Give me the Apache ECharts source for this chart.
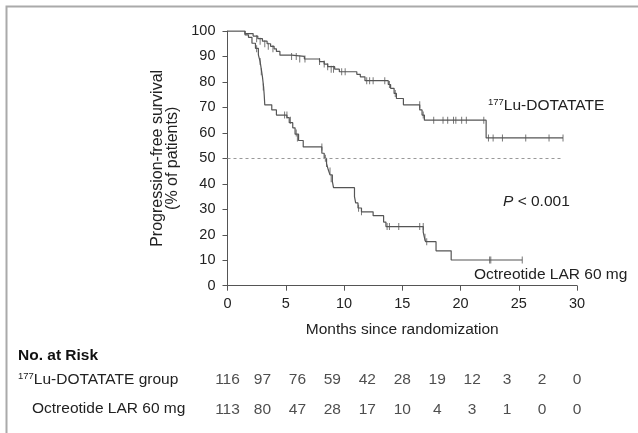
<!DOCTYPE html>
<html>
<head>
<meta charset="utf-8">
<script src="https://cdn.jsdelivr.net/npm/echarts@6/dist/echarts.min.js"></script>
<style>
html,body{margin:0;padding:0;background:#fff;}
#c{width:638px;height:433px;}
</style>
</head>
<body>
<div id="c"></div>
<script>
// Kaplan-Meier step points (months, % progression-free)
var luTimes  = [0, 1.5, 2.2, 2.6, 3.0, 3.4, 3.7, 4.0, 4.2, 4.5, 5.5, 6.6, 7.9, 8.3, 8.6, 9.2, 9.6, 11.1, 11.4, 11.8, 13.8, 14.0, 14.3, 14.5, 15.1, 16.5, 16.7, 16.9, 22.2, 28.8];
var luValues = [100, 99, 98, 97, 96, 95, 94, 93, 92, 90.5, 90, 89, 88, 87, 86, 85, 84, 83, 82, 80.5, 79, 77.5, 75.5, 73.5, 71, 69, 67, 65, 58, 58];

var octTimes  = [0, 1.5, 1.8, 2.1, 2.4, 2.65, 2.8, 2.9, 3.0, 3.1, 3.15, 3.2, 3.8, 4.2, 5.1, 5.3, 5.6, 5.8, 6.1, 6.5, 8.1, 8.3, 8.5, 8.65, 8.8, 9.0, 9.1, 10.9, 11.0, 11.2, 11.5, 12.5, 13.4, 13.6, 16.8, 16.9, 17.0, 17.9, 19.2, 25.3];
var octValues = [100, 98.5, 97.5, 95.2, 93.2, 90.6, 88, 85, 82, 78, 75, 71, 69, 67, 66, 64, 62, 59.5, 57, 54.5, 52, 50, 48, 45.5, 43.5, 41, 38.5, 35, 32.5, 30.5, 29, 27.5, 25, 23.2, 21, 19, 17.3, 13.7, 10.1, 10.1];

// censoring marks
var luCensorTimes  = [2.5, 2.8, 3.2, 3.5, 3.9, 5.5, 5.9, 6.2, 6.65, 7.9, 8.3, 8.6, 8.9, 9.1, 9.8, 10.1, 11.95, 12.2, 12.5, 13.5, 13.9, 14.4, 16.5, 16.8, 17.7, 18.5, 18.9, 19.4, 19.6, 20.1, 20.5, 22.0, 22.4, 22.8, 23.6, 25.6, 27.6, 28.8];
var luCensorValues = [97, 96, 95, 94, 93, 90, 90, 89, 89, 88, 87, 86, 85, 85, 84, 84, 80.5, 80.5, 80.5, 80.5, 79, 75.5, 71, 67, 65, 65, 65, 65, 65, 65, 65, 65, 58, 58, 58, 58, 58, 58];

var octCensorTimes  = [2.5, 2.8, 2.9, 3.07, 4.9, 5.1, 5.4, 5.9, 6.0, 8.1, 8.4, 8.5, 8.8, 8.9, 11.25, 11.5, 13.7, 13.9, 14.7, 16.5, 16.8, 16.95, 17.1, 22.5, 22.6, 25.3];
var octCensorValues = [93, 88, 84, 78, 67, 67, 65, 60, 58, 54.5, 50, 48, 45, 42, 30.4, 29, 23.2, 23.2, 23.2, 23.2, 23.2, 19, 17.3, 10.1, 10.1, 10.1];

// number at risk table
var riskMonths = [0, 3, 6, 9, 12, 15, 18, 21, 24, 27, 30];
var luRisk  = [116, 97, 76, 59, 42, 28, 19, 12, 3, 2, 0];
var octRisk = [113, 80, 47, 28, 17, 10, 4, 3, 1, 0, 0];

var xTicks = [0, 5, 10, 15, 20, 25, 30];
var yTicks = [0, 10, 20, 30, 40, 50, 60, 70, 80, 90, 100];

function zip(a, b) { return a.map(function (v, i) { return [v, b[i]]; }); }

var FONT = '"Liberation Sans", Arial, sans-serif';
var TXT = '#222';
var LINE = '#555';

var chart = echarts.init(document.getElementById('c'), null, {renderer: 'canvas'});

var riskData = [];
riskMonths.forEach(function (m, i) {
  riskData.push([m, 0, luRisk[i]]);
  riskData.push([m, 1, octRisk[i]]);
});

var option = {
  animation: false,
  backgroundColor: '#fff',
  textStyle: {fontFamily: FONT},
  grid: [
    {left: 227.5, right: 61, top: 31, bottom: 147.3, containLabel: false},
    {left: 227.5, right: 61, top: 365, height: 59}
  ],
  xAxis: [
    {
      type: 'value', gridIndex: 0, min: 0, max: 30, interval: 5,
      name: 'Months since randomization', nameLocation: 'middle', nameGap: 36,
      nameTextStyle: {fontSize: 15.5, color: TXT, fontFamily: FONT},
      axisLine: {lineStyle: {color: LINE, width: 1}},
      axisTick: {show: true, length: 5, lineStyle: {color: LINE}},
      axisLabel: {fontSize: 14.5, color: TXT, fontFamily: FONT, margin: 11},
      splitLine: {show: false}
    },
    {type: 'value', gridIndex: 1, min: 0, max: 30, show: false}
  ],
  yAxis: [
    {
      type: 'value', gridIndex: 0, min: 0, max: 100, interval: 10,
      name: 'Progression-free survival\n(% of patients)', nameLocation: 'middle', nameGap: 45,
      nameRotate: 90,
      nameTextStyle: {fontSize: 16, color: TXT, fontFamily: FONT, lineHeight: 14.5},
      axisLine: {show: true, lineStyle: {color: LINE, width: 1}},
      axisTick: {show: true, length: 5, lineStyle: {color: LINE}},
      axisLabel: {fontSize: 14.5, color: TXT, fontFamily: FONT, margin: 12},
      splitLine: {show: false}
    },
    {type: 'category', gridIndex: 1, data: ['lu', 'oct'], inverse: true, show: false}
  ],
  series: [
    {
      type: 'line', xAxisIndex: 0, yAxisIndex: 0, step: 'end', showSymbol: false,
      data: zip(luTimes, luValues),
      lineStyle: {color: LINE, width: 1.2},
      markLine: {
        silent: true, symbol: 'none', label: {show: false},
        lineStyle: {color: '#999', type: [3, 3], width: 1},
        data: [[{coord: [0, 50]}, {coord: [28.8, 50]}]]
      }
    },
    {
      type: 'line', xAxisIndex: 0, yAxisIndex: 0, step: 'end', showSymbol: false,
      data: zip(octTimes, octValues),
      lineStyle: {color: LINE, width: 1.2}
    },
    {
      type: 'scatter', xAxisIndex: 0, yAxisIndex: 0,
      data: zip(luCensorTimes, luCensorValues),
      symbol: 'rect', symbolSize: [1, 7], itemStyle: {color: LINE}
    },
    {
      type: 'scatter', xAxisIndex: 0, yAxisIndex: 0,
      data: zip(octCensorTimes, octCensorValues),
      symbol: 'rect', symbolSize: [1, 7], itemStyle: {color: LINE}
    },
    {
      type: 'scatter', xAxisIndex: 1, yAxisIndex: 1,
      data: riskData, symbolSize: 2, itemStyle: {color: 'rgba(0,0,0,0)'},
      label: {
        show: true, position: 'inside', color: TXT, fontSize: 15.5, fontFamily: FONT,
        formatter: function (p) { return String(p.value[2]); }
      },
      labelLayout: {hideOverlap: false}
    }
  ],
  graphic: [
    {type: 'polyline', shape: {points: [[6.5, 433], [6.5, 6.5], [638, 6.5]]},
     style: {stroke: '#aaa', lineWidth: 2, fill: null}, silent: true},
    {type: 'text', left: 488, top: 97, style: {
      text: '{s|177}{n|Lu-DOTATATE}', fill: TXT, fontFamily: FONT,
      rich: {s: {fontSize: 9.5, verticalAlign: 'top', fill: TXT, fontFamily: FONT, padding: [0, 0, 7, 0]},
             n: {fontSize: 15.5, fill: TXT, fontFamily: FONT}}
    }},
    {type: 'text', left: 503, top: 194, style: {
      text: '{i|P} < 0.001', fill: TXT, fontFamily: FONT, fontSize: 15.5,
      rich: {i: {fontStyle: 'italic', fontSize: 15.5, fill: TXT, fontFamily: FONT}}
    }},
    {type: 'text', left: 474, top: 267, style: {text: 'Octreotide LAR 60 mg', fill: TXT, fontFamily: FONT, fontSize: 15.5}},
    {type: 'text', left: 18, top: 348, style: {text: 'No. at Risk', fill: '#111', fontFamily: FONT, fontSize: 15.5, fontWeight: 'bold'}},
    {type: 'text', left: 18, top: 371, style: {
      text: '{s|177}{n|Lu-DOTATATE group}', fill: TXT, fontFamily: FONT,
      rich: {s: {fontSize: 9.5, verticalAlign: 'top', fill: TXT, fontFamily: FONT, padding: [0, 0, 7, 0]},
             n: {fontSize: 15.5, fill: TXT, fontFamily: FONT}}
    }},
    {type: 'text', left: 32, top: 401, style: {text: 'Octreotide LAR 60 mg', fill: TXT, fontFamily: FONT, fontSize: 15.5}}
  ]
};
chart.setOption(option);
</script>
</body>
</html>
